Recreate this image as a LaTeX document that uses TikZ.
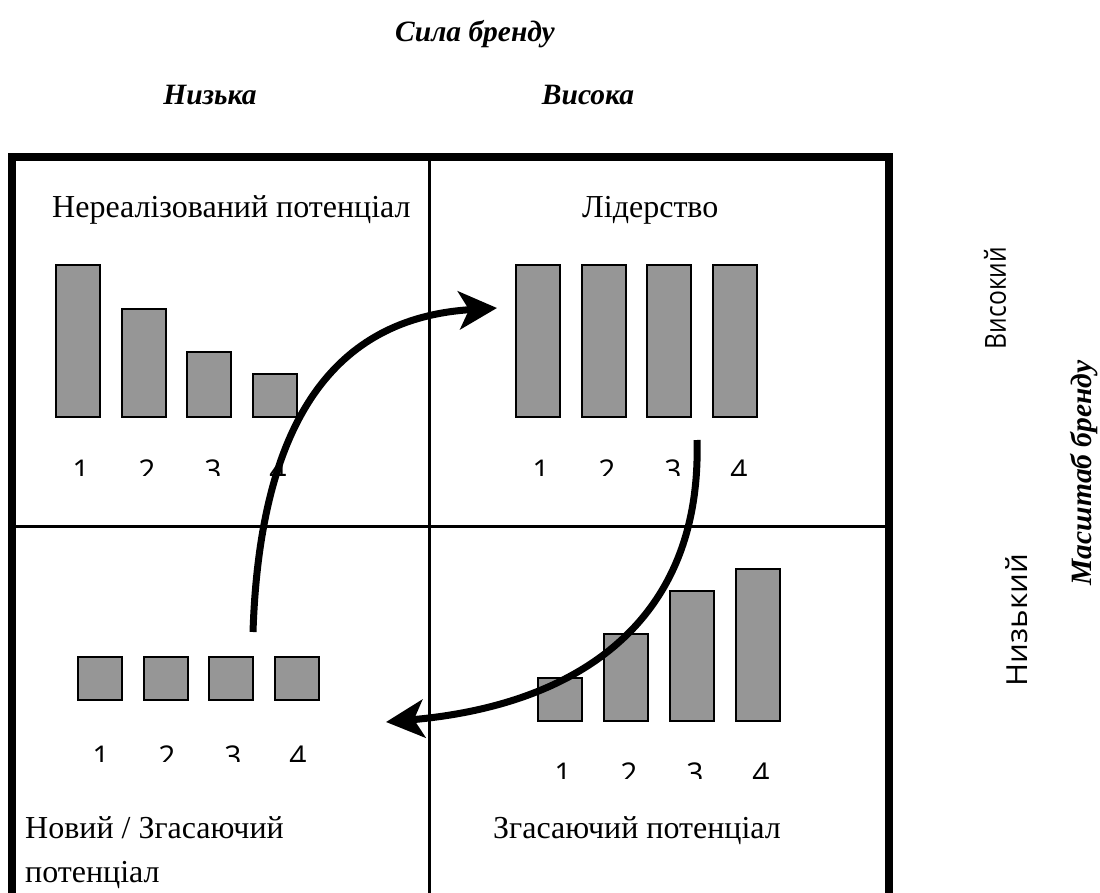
\documentclass[tikz,border=0pt]{standalone}
\usepackage{fontspec}
\usepackage{graphicx}
\setmainfont{Liberation Serif}
\newfontfamily\numfont{Open Sans}
\usetikzlibrary{arrows.meta}
\definecolor{barfill}{RGB}{150,150,150}

\begin{document}
\begin{tikzpicture}[x=1pt, y=-1pt,
    bar/.style={draw, line width=1.5pt, fill=barfill},
    title/.style={font=\fontsize{29.5}{36}\selectfont\bfseries\itshape, anchor=base},
    quad/.style={font=\fontsize{32}{44}\selectfont, anchor=base west, inner sep=0pt, align=left},
    num/.style={font=\numfont\fontsize{30}{36}\selectfont, anchor=base, inner sep=0pt},
    side/.style={font=\numfont\fontsize{29}{34}\selectfont, rotate=90},
    flow/.style={line width=7pt, -{Stealth[length=38pt, width=38pt, inset=10pt]}}
  ]
  \useasboundingbox (0,0) rectangle (1100,893);

  % frame and quadrants
  \draw[line width=8pt] (12,157) rectangle (889,897);
  \draw[line width=3pt] (429,157) -- (429,897);
  \draw[line width=3pt] (12,526) -- (889,526);

  % headings
  \node[title] (strength) at (475,42)  {Сила бренду};
  \node[title] (low)      at (210,105) {Низька};
  \node[title] (high)     at (588,105) {Висока};
  \node[side]  (scalehi)  at (995,298) {\scalebox{0.85}[1]{Високий}};
  \node[side]  (scalelo)  at (1017,620) {\scalebox{1.08}[1]{Низький}};
  \node[title, anchor=center, rotate=90] (scale) at (1084,473) {Масштаб бренду};

  % quadrant names
  \node[quad] (unreal) at (52,218)  {Нереалізований потенціал};
  \node[quad] (lead)   at (582,218) {Лідерство};
  \node[quad] (newq)   at (25,882)  {Новий / Згасаючий\\потенціал};
  \node[quad] (fade)   at (493,838) {Згасаючий потенціал};

  % bars
  \foreach \x/\t in {56/265, 122/309, 187/352, 253/374}
    \draw[bar] (\x,\t) rectangle ++(44,417-\t);
  \foreach \x in {516, 582, 647, 713}
    \draw[bar] (\x,265) rectangle ++(44,152);
  \foreach \x in {78, 144, 209, 275}
    \draw[bar] (\x,657) rectangle ++(44,43);
  \foreach \x/\t in {538/678, 604/634, 670/591, 736/569}
    \draw[bar] (\x,\t) rectangle ++(44,721-\t);

  % numbers (cut off as in the source)
  \begin{scope}
    \clip (20,440) rectangle (880,475);
    \foreach \n/\x in {1/81, 2/147, 3/213, 4/278}
      \node[num] (tl\n) at (\x,481) {\n};
    \foreach \n/\x in {1/541, 2/607, 3/673, 4/739}
      \node[num] (tr\n) at (\x,481) {\n};
  \end{scope}
  \begin{scope}
    \clip (20,735) rectangle (420,761);
    \foreach \n/\x in {1/101, 2/167, 3/233, 4/298}
      \node[num] (bl\n) at (\x,767) {\n};
  \end{scope}
  \begin{scope}
    \clip (440,750) rectangle (880,778);
    \foreach \n/\x in {1/563, 2/629, 3/695, 4/761}
      \node[num] (br\n) at (\x,784) {\n};
  \end{scope}

  % cycle arrows
  \coordinate (upstart)   at (253,632);
  \coordinate (upend)     at (497,308);
  \coordinate (downstart) at (697,440);
  \coordinate (downend)   at (386,722);
  \draw[flow] (upstart) .. controls (260,420) and (335,318) .. (upend);
  \draw[flow] (downstart) .. controls (702,620) and (580,705) .. (downend);
\end{tikzpicture}
\end{document}
